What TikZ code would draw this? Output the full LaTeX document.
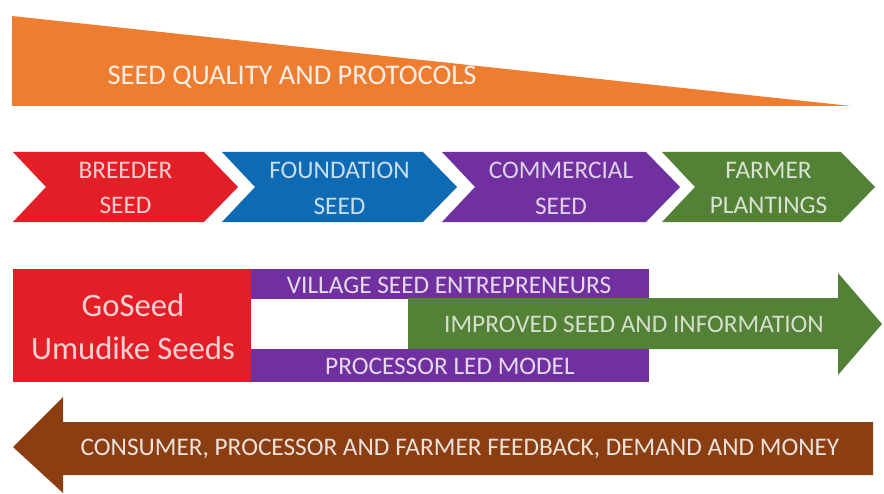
\documentclass[tikz,border=0pt]{standalone}
\usepackage{fontspec}
\setmainfont{Carlito}
\usepackage{xcolor}

\definecolor{qorange}{HTML}{ED7D31}
\definecolor{sred}{HTML}{E41E26}
\definecolor{sblue}{HTML}{0F6AB4}
\definecolor{spurple}{HTML}{7030A0}
\definecolor{sgreen}{HTML}{538135}
\definecolor{sbrown}{HTML}{8B3E12}

\begin{document}
\begin{tikzpicture}[x=0.02cm, y=-0.02cm,
  lbl/.style={font=\fontsize{14.4}{20.4}\selectfont, align=center, inner sep=0pt},
  biglbl/.style={font=\fontsize{18.6}{24.4}\selectfont, align=center, inner sep=0pt}]
  \useasboundingbox (0,0) rectangle (884,493);
  % seed quality wedge
  \fill[qorange] (12,16) -- (12,106) -- (851,106) -- cycle;
  \node[lbl, font=\fontsize{16.2}{19}\selectfont, text=white!88!qorange] (quality) at (292,77) {SEED QUALITY AND PROTOCOLS};
  % seed classes
  \foreach \l/\r/\c/\nm/\txt in {13/238/sred/breeder/{BREEDER\\SEED},
                                 222/457/sblue/foundation/{FOUNDATION\\SEED},
                                 442/680/spurple/commercial/{COMMERCIAL\\SEED},
                                 662/875/sgreen/farmer/{FARMER\\PLANTINGS}} {
    \fill[\c] (\l,152) -- (\r-34,152) -- (\r,187) -- (\r-34,222) -- (\l,222) -- (\l+33,187) -- cycle;
    \node[lbl, text=white!78!\c] (\nm) at ({(\l+\r)/2},188) {\txt};
  }
  % delivery models
  \fill[spurple] (251,269) rectangle (649,299);
  \fill[spurple] (251,349) rectangle (649,382);
  \fill[sred] (13,269) rectangle (251,382);
  \fill[sgreen] (408,298) -- (838,298) -- (838,273) -- (882,324) -- (838,375) -- (838,349) -- (408,349) -- cycle;
  \node[biglbl, text=white!80!sred] (goseed) at (133,327) {GoSeed\\Umudike Seeds};
  \node[lbl, text=white!82!spurple] (village) at (449,285) {VILLAGE SEED ENTREPRENEURS};
  \node[lbl, text=white!75!sgreen] (improved) at (634,324) {IMPROVED SEED AND INFORMATION};
  \node[lbl, text=white!82!spurple] (processor) at (450,366) {PROCESSOR LED MODEL};
  % feedback
  \fill[sbrown] (873,422) -- (63,422) -- (63,397) -- (13,447) -- (63,493) -- (63,475) -- (873,475) -- cycle;
  \node[lbl, text=white!85!sbrown] (feedback) at (460,449) {CONSUMER, PROCESSOR AND FARMER FEEDBACK, DEMAND AND MONEY};
\end{tikzpicture}
\end{document}
